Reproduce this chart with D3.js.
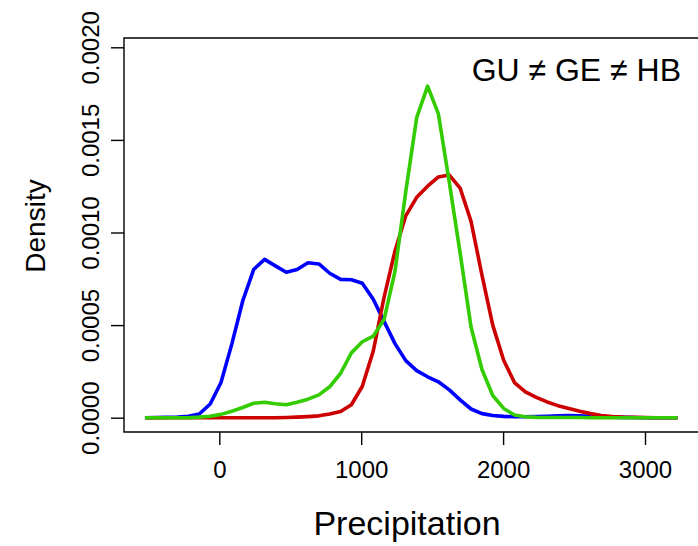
<!DOCTYPE html>
<html>
<head>
<meta charset="utf-8">
<script src="https://cdn.jsdelivr.net/npm/d3@7"></script>
<style>
  body { margin: 0; background: #fff; }
  text { font-family: "Liberation Sans", Arial, sans-serif; }
</style>
</head>
<body>
<svg id="chart" width="698" height="546"></svg>
<script>
// density grid (precipitation) and the three estimated densities
const precip = [-524, -447, -371, -294, -218, -141, -64, 12, 89, 165,
    242, 319, 395, 472, 548, 625, 702, 778, 855, 931,
    1008, 1085, 1161, 1238, 1314, 1391, 1468, 1544, 1621, 1697,
    1774, 1851, 1927, 2004, 2080, 2157, 2234, 2310, 2387, 2463,
    2540, 2617, 2693, 2770, 2846, 2923, 3000, 3076, 3153, 3229];

const densGU = [0, 0.000001, 0.000002, 0.000004, 0.000008, 0.00002, 0.000074, 0.00019, 0.0004, 0.00063,
    0.0008, 0.000855, 0.00082, 0.000785, 0.0008, 0.000837, 0.00083, 0.00078, 0.000747, 0.000745,
    0.000726, 0.00064, 0.00052, 0.0004, 0.000308, 0.000254, 0.000221, 0.000194, 0.00015, 0.000096,
    0.000047, 0.000022, 0.000012, 0.000007, 0.000005, 0.000005, 0.000006, 0.000008, 0.00001, 0.000011,
    0.00001, 0.000008, 0.000005, 0.000003, 0.000002, 0.000001, 0, 0, 0, 0];

const densHB = [0, 0, 0, 0, 0, 0, 0, 0, 0, 0,
    0, 0, 0, 0.000001, 0.000003, 0.000006, 0.00001, 0.00002, 0.000033, 0.00007,
    0.00017, 0.00036, 0.00065, 0.0009, 0.00109, 0.00119, 0.00125, 0.0013, 0.00131, 0.00124,
    0.00106, 0.00077, 0.0005, 0.00031, 0.00019, 0.00014, 0.00011, 0.000085, 0.000065, 0.00005,
    0.000035, 0.000022, 0.000012, 0.000006, 0.000003, 0.000002, 0.000001, 0, 0, 0];

const densGE = [0, 0, 0, 0, 0, 0.000003, 0.000008, 0.000018, 0.000035, 0.000055,
    0.000078, 0.000083, 0.000075, 0.00007, 0.000083, 0.0001, 0.000123, 0.000167, 0.00024, 0.00035,
    0.00041, 0.00044, 0.00053, 0.00079, 0.00122, 0.00162, 0.00179, 0.00164, 0.00127, 0.00089,
    0.00049, 0.00026, 0.00012, 0.00005, 0.000015, 0.000005, 0.000002, 0.000001, 0.000001, 0.000001,
    0.000001, 0, 0, 0, 0, 0, 0, 0, 0, 0];

const xTicks = [0, 1000, 2000, 3000];
const yTicks = [0, 0.0005, 0.001, 0.0015, 0.002];
const legendText = "GU \u2260 GE \u2260 HB";

let svg = d3.select("#chart");

// plot box (the right edge runs off the picture)
const box = {left: 124, top: 38, right: 712, bottom: 432};

let x = d3.scaleLinear().domain([0, 3000]).range([219.3, 645]);
let y = d3.scaleLinear().domain([0, 0.002]).range([417.7, 47.3]);

// frame
svg.append("path")
    .attr("d", "M" + box.right + "," + box.top + "H" + box.left + "V" + box.bottom + "H" + box.right)
    .attr("fill", "none")
    .attr("stroke", "#000")
    .attr("stroke-width", 1.4);

// x axis
let xAxis = svg.append("g")
    .attr("transform", "translate(0," + box.bottom + ")")
    .call(d3.axisBottom(x).tickValues(xTicks).tickSize(13).tickPadding(16).tickFormat(d3.format("d")));
xAxis.select(".domain").remove();
xAxis.selectAll("line").attr("stroke-width", 1.4);
xAxis.selectAll("text").attr("font-size", 24).attr("fill", "#000");

// y axis, labels turned sideways like R
let yAxis = svg.append("g")
    .attr("transform", "translate(" + box.left + ",0)")
    .call(d3.axisLeft(y).tickValues(yTicks).tickSize(13).tickFormat(d3.format(".4f")));
yAxis.select(".domain").remove();
yAxis.selectAll("line").attr("stroke-width", 1.4);
yAxis.selectAll("text")
    .attr("font-size", 24)
    .attr("fill", "#000")
    .attr("x", null)
    .attr("text-anchor", "middle")
    .attr("transform", "translate(-25,0) rotate(-90)")
    .attr("dy", "0em");

// density lines
let line = d3.line()
    .x((d, i) => { return x(precip[i]) })
    .y((d) => { return y(d) });

[[densGU, "#0000ff"], [densHB, "#cc0000"], [densGE, "#33cc00"]].forEach((s) => {
    svg.append("path")
        .datum(s[0])
        .attr("fill", "none")
        .attr("stroke", s[1])
        .attr("stroke-width", 3.6)
        .attr("stroke-linejoin", "round")
        .attr("d", line);
});

// axis titles
svg.append("text")
    .attr("x", 407).attr("y", 535)
    .attr("text-anchor", "middle")
    .attr("font-size", 34)
    .text("Precipitation");

svg.append("text")
    .attr("transform", "translate(45,226) rotate(-90)")
    .attr("text-anchor", "middle")
    .attr("font-size", 28)
    .text("Density");

// group label
svg.append("text")
    .attr("x", 681).attr("y", 81)
    .attr("text-anchor", "end")
    .attr("font-size", 32)
    .text(legendText);
</script>
</body>
</html>
